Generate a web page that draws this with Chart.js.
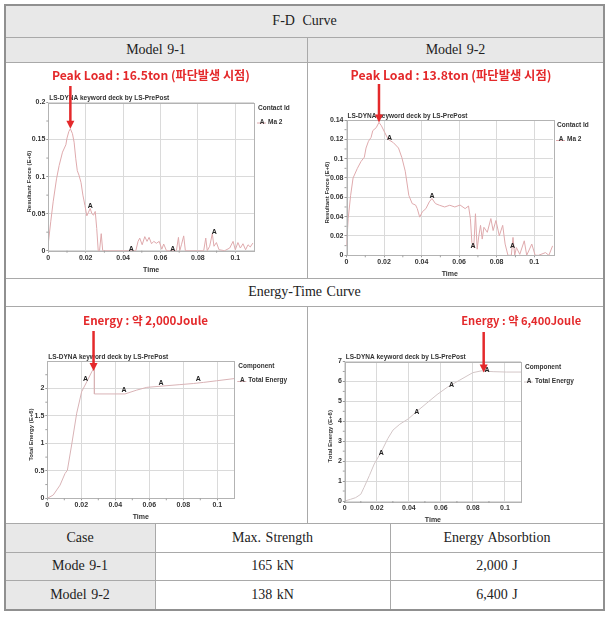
<!DOCTYPE html>
<html>
<head>
<meta charset="utf-8">
<script src="https://cdn.jsdelivr.net/npm/chart.js@4.4.1/dist/chart.umd.min.js"></script>
<style>
  body { margin: 0; background: #fff; }
  #page { position: relative; width: 609px; height: 617px; overflow: hidden; }
  .cell { position: absolute; display: flex; align-items: center; justify-content: center;
          font-family: "Liberation Serif", serif; font-size: 14px; color: #222; word-spacing: 1px; }
  .gray { background: #e8e8e8; }
  .hl, .vl { position: absolute; background: #a9a9a9; }
  .hl { height: 1px; left: 5px; width: 599px; }
  .vl { width: 1px; }
  .frame { position: absolute; box-sizing: border-box; left: 4px; top: 4px; width: 601px; height: 607px; border: 2px solid #909090; }
  canvas { position: absolute; }
</style>
</head>
<body>
<div id="page">
  <div class="cell gray" style="left:5px;top:5px;width:599px;height:32px;word-spacing:4px">F-D Curve</div>
  <div class="cell gray" style="left:5px;top:37px;width:302px;height:25px">Model 9-1</div>
  <div class="cell gray" style="left:307px;top:37px;width:297px;height:25px">Model 9-2</div>
  <div class="cell" style="left:5px;top:278px;width:599px;height:28px">Energy-Time Curve</div>
  <div class="cell gray" style="left:5px;top:523px;width:150px;height:29px">Case</div>
  <div class="cell" style="left:155px;top:523px;width:235px;height:29px">Max. Strength</div>
  <div class="cell" style="left:390px;top:523px;width:214px;height:29px">Energy Absorbtion</div>
  <div class="cell gray" style="left:5px;top:552px;width:150px;height:28px">Mode 9-1</div>
  <div class="cell" style="left:155px;top:552px;width:235px;height:28px">165 kN</div>
  <div class="cell" style="left:390px;top:552px;width:214px;height:28px">2,000 J</div>
  <div class="cell gray" style="left:5px;top:580px;width:150px;height:30px">Model 9-2</div>
  <div class="cell" style="left:155px;top:580px;width:235px;height:30px">138 kN</div>
  <div class="cell" style="left:390px;top:580px;width:214px;height:30px">6,400 J</div>

  <div class="hl" style="top:37px"></div>
  <div class="hl" style="top:62px"></div>
  <div class="hl" style="top:278px"></div>
  <div class="hl" style="top:306px"></div>
  <div class="hl" style="top:523px"></div>
  <div class="hl" style="top:552px"></div>
  <div class="hl" style="top:580px"></div>
  <div class="vl" style="left:307px;top:37px;height:241px"></div>
  <div class="vl" style="left:307px;top:306px;height:217px"></div>
  <div class="vl" style="left:155px;top:523px;height:87px"></div>
  <div class="vl" style="left:390px;top:523px;height:87px"></div>
  <div class="frame"></div>

  <canvas id="fd1" width="301" height="214" style="left:5px;top:63px"></canvas>
  <canvas id="fd2" width="295" height="214" style="left:308px;top:63px"></canvas>
  <canvas id="en1" width="301" height="215" style="left:5px;top:307px"></canvas>
  <canvas id="en2" width="295" height="215" style="left:308px;top:307px"></canvas>
</div>
<script>
// shared x ticks (Time)
const xTicks = [0, 0.02, 0.04, 0.06, 0.08, 0.1];

// === Model 9-1 : F-D ===
const fd1Time = [0, 0.0013, 0.0026, 0.0044, 0.0058, 0.0076, 0.0094, 0.010, 0.011, 0.0118,
  0.0129, 0.0138, 0.0147, 0.0155, 0.0164, 0.0175, 0.0185, 0.0196, 0.0206, 0.0215,
  0.0224, 0.0233, 0.0242, 0.0251, 0.0259, 0.0267, 0.0274, 0.0283, 0.0291, 0.0468,
  0.048, 0.0489, 0.0502, 0.0516, 0.0528, 0.0539, 0.0552, 0.0564, 0.0578, 0.0593,
  0.0607, 0.0617, 0.0632, 0.0685, 0.0696, 0.0703, 0.0712, 0.0724, 0.0733, 0.0831,
  0.0842, 0.085, 0.0863, 0.0877, 0.0886, 0.0899, 0.0913, 0.0943, 0.097, 0.0988,
  0.1, 0.1014, 0.1027, 0.1041, 0.1055, 0.1068, 0.108, 0.1094];
const fd1Force = [0.01, 0.039, 0.066, 0.097, 0.115, 0.133, 0.143, 0.152, 0.161, 0.1645,
  0.158, 0.1465, 0.124, 0.108, 0.102, 0.092, 0.075, 0.061, 0.047, 0.052,
  0.057, 0.050, 0.048, 0.053, 0.030, 0, 0, 0.023, 0, 0,
  0.0126, 0.017, 0.008, 0.019, 0.0126, 0.018, 0.0094, 0.0126, 0.01, 0.0126,
  0.002, 0.009, 0, 0, 0.018, 0, 0.008, 0.02, 0, 0,
  0.017, 0, 0.006, 0.023, 0.006, 0.011, 0.0013, 0, 0.0036, 0.0126,
  0.0013, 0.011, 0.0036, 0.0094, 0.0013, 0.008, 0.005, 0.0103];
const fd1MarkTime = [0.0224, 0.0444, 0.0665, 0.0887];
const fd1MarkForce = [0.057, 0, 0, 0.023];
const fd1YTicks = [0, 0.05, 0.1, 0.15, 0.2];

// === Model 9-2 : F-D ===
const fd2Time = [0, 0.0009, 0.0022, 0.0035, 0.0058, 0.0077, 0.0095, 0.0104, 0.0117, 0.0131,
  0.014, 0.0158, 0.0173, 0.0186, 0.0204, 0.0222, 0.025, 0.0277, 0.0295, 0.0313,
  0.0332, 0.035, 0.0368, 0.0377, 0.039, 0.0404, 0.0423, 0.0441, 0.0455, 0.0474,
  0.0495, 0.0523, 0.055, 0.0577, 0.0605, 0.0632, 0.065, 0.066, 0.0668, 0.0678,
  0.0687, 0.0696, 0.0705, 0.0714, 0.0723, 0.0732, 0.075, 0.0769, 0.0781, 0.0796,
  0.0814, 0.0832, 0.0845, 0.086, 0.0878, 0.0887, 0.0896, 0.0905, 0.0923, 0.0947,
  0.096, 0.0987, 0.1005, 0.1023, 0.106, 0.1078, 0.1098];
const fd2Force = [0.0098, 0.038, 0.062, 0.08, 0.09, 0.097, 0.1015, 0.111, 0.118, 0.122,
  0.129, 0.132, 0.1375, 0.134, 0.127, 0.12, 0.1165, 0.111, 0.101, 0.087,
  0.062, 0.0535, 0.052, 0.0483, 0.0395, 0.045, 0.0483, 0.0553, 0.0588, 0.0535,
  0.0518, 0.05, 0.0518, 0.05, 0.052, 0.0483, 0.051, 0.038, 0.013, 0.008,
  0.043, 0.0063, 0.0203, 0.031, 0.0168, 0.029, 0.0238, 0.038, 0.0256, 0.036,
  0.0203, 0.031, 0.0116, 0, 0, 0.0185, 0, 0.008, 0.001, 0.015,
  0, 0.0116, 0, 0, 0.0028, 0, 0.0098];
const fd2MarkTime = [0.0229, 0.0455, 0.0674, 0.0885];
const fd2MarkForce = [0.119, 0.059, 0.008, 0.008];
const fd2YTicks = [0, 0.02, 0.04, 0.06, 0.08, 0.1, 0.12, 0.14];

// === Model 9-1 : Energy ===
const en1Time = [0, 0.0035, 0.0075, 0.0104, 0.0118, 0.0143, 0.0173, 0.0202, 0.0232, 0.0261,
  0.0277, 0.0277, 0.0457, 0.0526, 0.0585, 0.0663, 0.078, 0.0859, 0.0918, 0.0996, 0.11];
const en1Energy = [0, 0.06, 0.24, 0.45, 0.51, 0.97, 1.55, 1.94, 2.12, 2.30,
  2.39, 1.90, 1.90, 1.97, 2.02, 2.04, 2.07, 2.09, 2.11, 2.14, 2.18];
const en1MarkTime = [0.0225, 0.0451, 0.0669, 0.0888];
const en1MarkEnergy = [2.13, 1.93, 2.06, 2.14];
const en1YTicks = [0, 0.5, 1, 1.5, 2];

// === Model 9-2 : Energy ===
const en2Time = [0, 0.0036, 0.0068, 0.01, 0.012, 0.0153, 0.0184, 0.0227, 0.0269, 0.0301,
  0.0343, 0.0396, 0.0449, 0.0513, 0.0576, 0.064, 0.0714, 0.0799, 0.0852, 0.0926, 0.101, 0.11];
const en2Energy = [0, 0.085, 0.17, 0.34, 0.68, 1.27, 1.86, 2.46, 3.14, 3.56,
  3.85, 4.12, 4.49, 4.92, 5.34, 5.71, 6.05, 6.44, 6.53, 6.49, 6.47, 6.47];
const en2MarkTime = [0.0227, 0.0449, 0.0667, 0.0888];
const en2MarkEnergy = [2.29, 4.37, 5.71, 6.49];
const en2YTicks = [0, 1, 2, 3, 4, 5, 6, 7];

const SANS = '"Liberation Sans", Arial, sans-serif';
const RED = '#e4292b';

function drawDeco(chart, o) {
  const ctx = chart.ctx, a = chart.chartArea;
  const xs = chart.scales.x, ys = chart.scales.y;
  ctx.save();

  // plot frame
  ctx.strokeStyle = '#b3b3b3';
  ctx.lineWidth = 1;
  ctx.strokeRect(Math.round(a.left) + 0.5, Math.round(a.top) + 0.5,
                 Math.round(a.right - a.left), Math.round(a.bottom - a.top));

  // minor ticks halfway between the major ones
  ctx.strokeStyle = '#a0a0a0';
  ctx.beginPath();
  for (let i = 0; i < xTicks.length; i++) {
    const px = xs.getPixelForValue(xTicks[i] + 0.01);
    if (px < a.right) { ctx.moveTo(px, a.bottom); ctx.lineTo(px, a.bottom + 2); }
  }
  for (let i = 0; i < o.yTicks.length; i++) {
    const step = o.yTicks[1] - o.yTicks[0];
    const py = ys.getPixelForValue(o.yTicks[i] + step / 2);
    if (py > a.top) { ctx.moveTo(a.left, py); ctx.lineTo(a.left - 2, py); }
  }
  ctx.stroke();

  // "A" markers on the curve
  ctx.fillStyle = '#222';
  ctx.font = 'bold 7px ' + SANS;
  ctx.textAlign = 'center';
  ctx.textBaseline = 'middle';
  o.markT.forEach((t, i) => {
    ctx.fillText('A', xs.getPixelForValue(t), ys.getPixelForValue(o.markV[i]) - 2);
  });

  // plot heading
  ctx.font = 'bold 6.5px ' + SANS;
  ctx.textAlign = 'left';
  ctx.fillStyle = '#333';
  ctx.fillText('LS-DYNA keyword deck by LS-PrePost', a.left + 1, a.top - 4);

  // legend
  ctx.fillText(o.legendTitle, a.right + 4, a.top + 5.5);
  ctx.strokeStyle = o.color;
  ctx.beginPath();
  ctx.moveTo(a.right + 3, a.top + 20.5);
  ctx.lineTo(a.right + 12, a.top + 20.5);
  ctx.stroke();
  ctx.textAlign = 'center';
  ctx.fillText('A', a.right + 8, a.top + 19.5);
  ctx.textAlign = 'left';
  ctx.fillText(o.legendName, a.right + 14, a.top + 19.5);

  // axis titles
  ctx.font = 'bold 7px ' + SANS;
  ctx.textAlign = 'center';
  ctx.fillText('Time', (a.left + a.right) / 2, a.bottom + 19);
  ctx.save();
  ctx.font = 'bold 6px ' + SANS;
  ctx.translate(a.left - o.yTitleGap, (a.top + a.bottom) / 2 + 5);
  ctx.rotate(-Math.PI / 2);
  ctx.fillText(o.yTitle, 0, 0);
  ctx.restore();

  // red call-out with arrow
  const n = o.note;
  const ax = xs.getPixelForValue(n.t);
  const tip = ys.getPixelForValue(n.v);
  const top = n.arrowTop - o.box.y;
  ctx.fillStyle = RED;
  ctx.strokeStyle = RED;
  ctx.font = 'bold 12px "Noto Sans CJK KR", sans-serif';
  const size = 12 * n.w / ctx.measureText(n.text).width;
  ctx.font = 'bold ' + size.toFixed(2) + 'px "Noto Sans CJK KR", sans-serif';
  ctx.textAlign = 'center';
  ctx.textBaseline = 'middle';
  ctx.fillText(n.text, ax + n.dx, n.textY - o.box.y);
  ctx.lineWidth = 2.5;
  ctx.beginPath();
  ctx.moveTo(ax, top);
  ctx.lineTo(ax, tip - 6);
  ctx.stroke();
  ctx.beginPath();
  ctx.moveTo(ax - 4, tip - 8);
  ctx.lineTo(ax + 4, tip - 8);
  ctx.lineTo(ax, tip);
  ctx.closePath();
  ctx.fill();

  ctx.restore();
}

function makeChart(id, o) {
  const box = o.box, p = o.plot;
  const yW = 24, xH = 14;
  const tickFont = { family: SANS, size: 7, weight: 'bold' };
  new Chart(document.getElementById(id), {
    type: 'line',
    data: {
      datasets: [{
        data: o.t.map((t, i) => ({ x: t, y: o.v[i] })),
        borderColor: o.color,
        borderWidth: 1,
        pointRadius: 0,
        tension: 0
      }]
    },
    options: {
      responsive: false,
      animation: false,
      layout: {
        padding: {
          left: p.l - box.x - yW,
          top: p.t - box.y,
          right: box.x + box.w - p.r,
          bottom: box.y + box.h - p.b - xH
        }
      },
      scales: {
        x: {
          type: 'linear', min: 0, max: 0.11,
          afterBuildTicks: s => { s.ticks = xTicks.map(v => ({ value: v })); },
          afterFit: s => { s.height = xH; },
          ticks: { font: tickFont, color: '#333', padding: 1, maxRotation: 0, autoSkip: false,
                   callback: v => String(v) },
          grid: { color: '#dadada', tickColor: '#9a9a9a', tickLength: 2 },
          border: { display: false }
        },
        y: {
          min: 0, max: o.yMax,
          afterBuildTicks: s => { s.ticks = o.yTicks.map(v => ({ value: v })); },
          afterFit: s => { s.width = yW; },
          ticks: { font: tickFont, color: '#333', padding: 1, autoSkip: false,
                   callback: v => String(v) },
          grid: { color: '#dadada', tickColor: '#9a9a9a', tickLength: 2 },
          border: { display: false }
        }
      },
      plugins: { legend: { display: false }, tooltip: { enabled: false } }
    },
    plugins: [{ id: 'deco', afterDraw: c => drawDeco(c, o) }]
  });
}

makeChart('fd1', {
  box: { x: 5, y: 63, w: 301, h: 214 },
  plot: { l: 48.3, t: 102.5, r: 254, b: 250.7 },
  t: fd1Time, v: fd1Force, markT: fd1MarkTime, markV: fd1MarkForce,
  yTicks: fd1YTicks, yMax: 0.2, color: '#dfaaad',
  legendTitle: 'Contact Id', legendName: 'Ma 2',
  yTitle: 'Resultant Force (E+6)', yTitleGap: 19,
  note: { text: 'Peak Load : 16.5ton (파단발생 시점)', t: 0.0118, v: 0.1645,
          dx: 80.5, textY: 75, arrowTop: 86, w: 198 }
});

makeChart('fd2', {
  box: { x: 308, y: 63, w: 295, h: 214 },
  plot: { l: 346.5, t: 120, r: 553, b: 255.3 },
  t: fd2Time, v: fd2Force, markT: fd2MarkTime, markV: fd2MarkForce,
  yTicks: fd2YTicks, yMax: 0.14, color: '#dfaaad',
  legendTitle: 'Contact Id', legendName: 'Ma 2',
  yTitle: 'Resultant Force (E+6)', yTitleGap: 19.5,
  note: { text: 'Peak Load : 13.8ton (파단발생 시점)', t: 0.0173, v: 0.1375,
          dx: 72, textY: 75, arrowTop: 84, w: 201 }
});

makeChart('en1', {
  box: { x: 5, y: 307, w: 301, h: 215 },
  plot: { l: 47.3, t: 361, r: 234.3, b: 498.3 },
  t: en1Time, v: en1Energy, markT: en1MarkTime, markV: en1MarkEnergy,
  yTicks: en1YTicks, yMax: 2.5, color: '#d9b3b6',
  legendTitle: 'Component', legendName: 'Total Energy',
  yTitle: 'Total Energy (E+6)', yTitleGap: 16,
  note: { text: 'Energy : 약 2,000Joule', t: 0.0272, v: 2.32,
          dx: 52, textY: 321, arrowTop: 331, w: 125 }
});

makeChart('en2', {
  box: { x: 308, y: 307, w: 295, h: 215 },
  plot: { l: 344.8, t: 361.5, r: 521, b: 501 },
  t: en2Time, v: en2Energy, markT: en2MarkTime, markV: en2MarkEnergy,
  yTicks: en2YTicks, yMax: 7, color: '#d3c6c7',
  legendTitle: 'Component', legendName: 'Total Energy',
  yTitle: 'Total Energy (E+6)', yTitleGap: 14.5,
  note: { text: 'Energy : 약 6,400Joule', t: 0.0867, v: 6.45,
          dx: 37.5, textY: 321, arrowTop: 332, w: 120 }
});
</script>
</body>
</html>
